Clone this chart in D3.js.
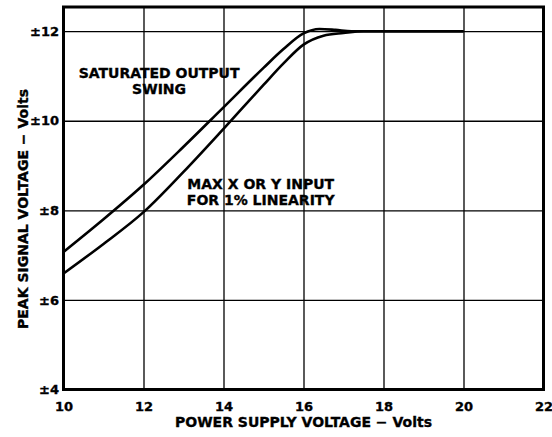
<!DOCTYPE html>
<html>
<head>
<meta charset="utf-8">
<script src="https://cdn.jsdelivr.net/npm/d3@7"></script>
<style>
  body { margin: 0; background: #fff; }
  svg { display: block; }
  text { font-family: 'DejaVu Sans', 'Liberation Sans', Arial, sans-serif; font-weight: bold; fill: #000; stroke: #000; stroke-width: 0.35; }
</style>
</head>
<body>
<div id="chartContainer"></div>
<script>
// supply voltage (x) and peak signal voltage (y)
const swingX = [10, 11, 12, 13, 14, 15, 15.5, 16, 16.4, 16.8, 17.2, 18, 20];
const swingY = [7.07, 7.8, 8.57, 9.42, 10.3, 11.18, 11.6, 11.95, 12.05, 12.03, 12.0, 12.0, 12.0];

const linX = [10, 11, 12, 13, 14, 15, 15.5, 16, 16.5, 17, 17.5, 18, 20];
const linY = [6.59, 7.25, 7.96, 8.86, 9.82, 10.8, 11.28, 11.7, 11.9, 11.96, 12.0, 12.0, 12.0];

const xTicks = [10, 12, 14, 16, 18, 20, 22];
const yTicks = [4, 6, 8, 10, 12];
const yTop = 12.54;

const svgWidth = 552;
const svgHeight = 437;
const plot = { left: 63.5, right: 543.5, top: 7, bottom: 389.5 };
const chartWidth = plot.right - plot.left;
const chartHeight = plot.bottom - plot.top;

const svg = d3.select('#chartContainer').append('svg').attr('width', svgWidth).attr('height', svgHeight);

const xScale = d3.scaleLinear().domain([10, 22]).range([0, chartWidth]);
const yScale = d3.scaleLinear().domain([4, yTop]).range([chartHeight, 0]);

const chart = svg.append('g').attr('transform', `translate(${plot.left}, ${plot.top})`);

// grid + tick labels
const xAxis = d3.axisBottom(xScale).tickValues(xTicks).tickSize(-chartHeight).tickPadding(12).tickFormat(d3.format('d'));
const gx = chart.append('g')
    .attr('class', 'x-axis')
    .attr('transform', `translate(0, ${chartHeight})`)
    .call(xAxis);

const yAxis = d3.axisLeft(yScale).tickValues(yTicks).tickSize(-chartWidth).tickPadding(4.5).tickFormat((d) => '±' + d);
const gy = chart.append('g')
    .attr('class', 'y-axis')
    .call(yAxis);

[gx, gy].forEach((g) => {
    g.select('.domain').remove();
    g.selectAll('line').attr('stroke', '#000').attr('stroke-width', 1.3);
    g.selectAll('text').attr('font-size', 13).attr('font-family', null).attr('fill', '#000');
});

// frame
chart.append('rect')
    .attr('x', 0)
    .attr('y', 0)
    .attr('width', chartWidth)
    .attr('height', chartHeight)
    .attr('fill', 'none')
    .attr('stroke', '#000')
    .attr('stroke-width', 3);

const line = d3.line()
    .x((d) => xScale(d[0]))
    .y((d) => yScale(d[1]))
    .curve(d3.curveMonotoneX);

[d3.zip(swingX, swingY), d3.zip(linX, linY)].forEach((pts) => {
    chart.append('path')
        .datum(pts)
        .attr('d', line)
        .attr('fill', 'none')
        .attr('stroke', '#000')
        .attr('stroke-width', 2.6);
});

// curve labels
const notes = [
    { x: 12.39, y: 10.95, lines: ['SATURATED OUTPUT', 'SWING'] },
    { x: 14.93, y: 8.47, lines: ['MAX X OR Y INPUT', 'FOR 1% LINEARITY'] },
];
notes.forEach((n) => {
    const t = chart.append('text')
        .attr('x', xScale(n.x))
        .attr('y', yScale(n.y))
        .attr('text-anchor', 'middle')
        .attr('font-size', 14);
    n.lines.forEach((s, i) => {
        t.append('tspan').attr('x', xScale(n.x)).attr('dy', i ? 15.5 : 0).text(s);
    });
});

// axis titles
svg.append('text')
    .attr('x', plot.left + chartWidth / 2)
    .attr('y', 427)
    .attr('text-anchor', 'middle')
    .attr('font-size', 14)
    .text('POWER SUPPLY VOLTAGE − Volts');

svg.append('text')
    .attr('transform', 'translate(28, 209) rotate(-90)')
    .attr('text-anchor', 'middle')
    .attr('font-size', 14)
    .text('PEAK SIGNAL VOLTAGE − Volts');
</script>
</body>
</html>
